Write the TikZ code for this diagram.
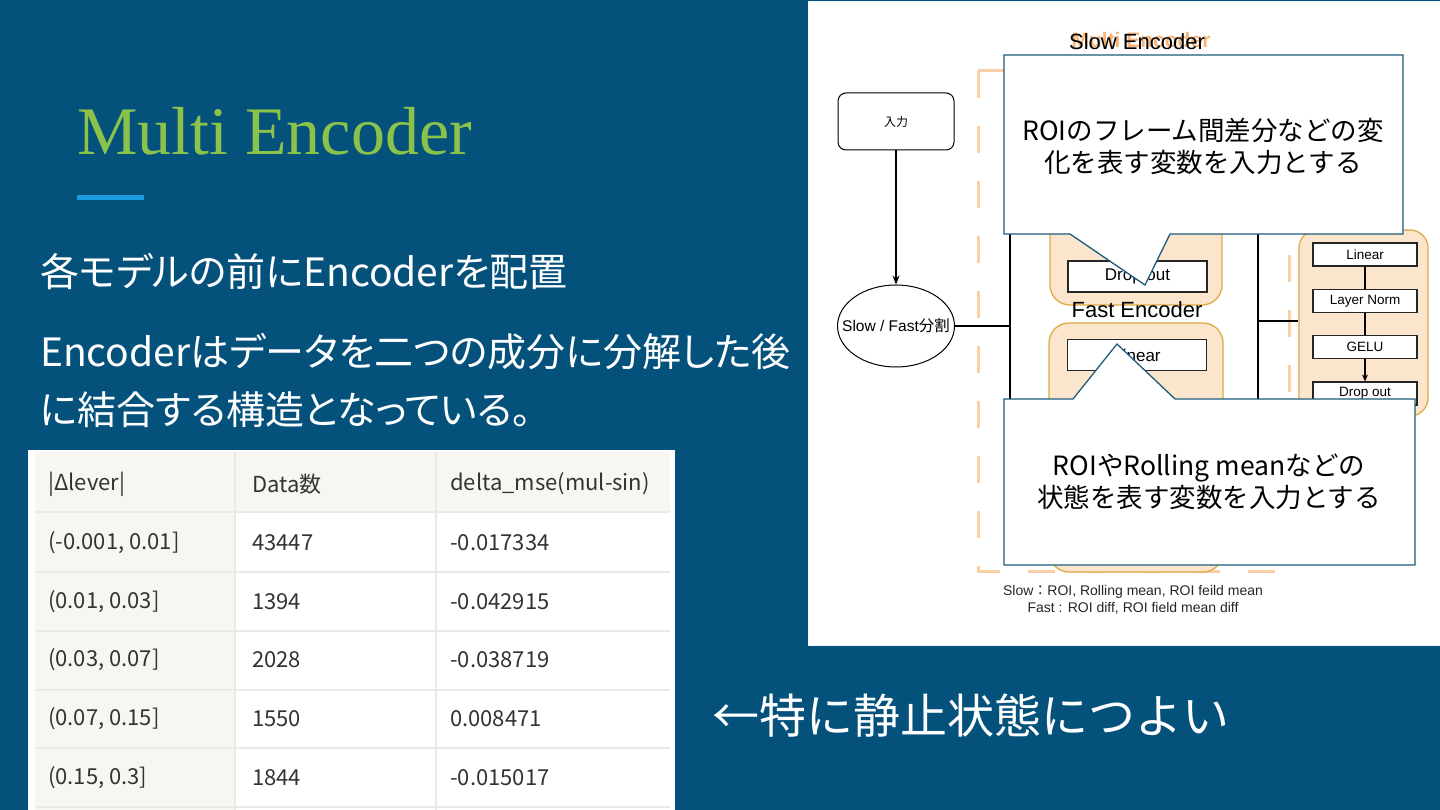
\documentclass[tikz,border=0pt]{standalone}
\usepackage{fontspec}
\setmainfont{Liberation Sans}
\newfontfamily\cjk{Noto Sans CJK JP}
\newfontfamily\cjkprop[RawFeature=+palt]{Noto Sans CJK JP}
\newfontfamily\slabfont{Liberation Serif}
\usetikzlibrary{positioning, arrows.meta, shapes.geometric}

\definecolor{slideblue}{HTML}{04527C}
\definecolor{titlegreen}{HTML}{8BC34A}
\definecolor{accentblue}{HTML}{1A9BE0}
\definecolor{encfill}{HTML}{FCE5CD}
\definecolor{encline}{HTML}{DDAA44}
\definecolor{groupline}{HTML}{F9CFA6}
\definecolor{grouptext}{HTML}{F7B57A}
\definecolor{calloutblue}{HTML}{1D5B7E}
\definecolor{tablehead}{HTML}{F7F6F3}
\definecolor{tablerule}{HTML}{E9E9E7}
\definecolor{tabletext}{HTML}{333333}

\newcommand{\fsz}[2]{\fontsize{#1}{#2}\selectfont}

\begin{document}
\begin{tikzpicture}[x=1pt, y=-1pt,
    layer/.style={draw=black!85, fill=white, line width=1.3pt, minimum width=139pt, minimum height=31pt, inner sep=0pt, font=\fsz{17}{20}},
    mlplayer/.style={draw=black!85, fill=white, line width=1.1pt, minimum width=104pt, minimum height=23pt, inner sep=0pt, font=\fsz{13.5}{16}},
    encbox/.style={draw=encline, fill=encfill, line width=1.3pt, rounded corners=20pt, inner sep=0pt},
    callout/.style={draw=calloutblue, fill=white, line width=1.3pt},
    calltext/.style={font=\cjk\fsz{26.5}{32}, align=center, inner sep=0pt},
    bodytext/.style={font=\cjkprop\fsz{39}{47}, text=white, anchor=west, inner sep=0pt},
    cell/.style={font=\cjk\fsz{22}{26}, text=tabletext, anchor=west, inner sep=0pt}]

    \useasboundingbox (0,0) rectangle (1440,810);
    \fill[slideblue] (0,0) rectangle (1440,810);

    % title and text
    \node[font=\slabfont\fsz{68}{80}, text=titlegreen, anchor=base west, inner sep=0pt] (title) at (77,155) {Multi Encoder};
    \draw[accentblue, line width=5pt] (77,198) -- (144,198);
    \node[bodytext] (line1) at (40,272) {各モデルの前にEncoderを配置};
    \node[bodytext] (line2) at (40,352) {Encoderはデータを二つの成分に分解した後};
    \node[bodytext] (line3) at (40,410) {に結合する構造となっている。};
    \node[font=\cjk\fsz{47}{56}, text=white, anchor=west, inner sep=0pt] (remark) at (712,716) {←特に静止状態につよい};

    % table
    \fill[white] (28,450) rectangle (675,810);
    \fill[tablehead] (35,452) rectangle (670,512);
    \fill[tablehead] (35,512) rectangle (235,810);
    \foreach \y in {512,572,631,690,748,807}
        \draw[tablerule, line width=1.5pt] (35,\y) -- (670,\y);
    \foreach \x in {235,436}
        \draw[tablerule, line width=1.5pt] (\x,452) -- (\x,810);
    \foreach \r/\y/\a/\b/\c in {
        0/484/{|Δlever|}/{Data数}/{delta\_mse(mul-sin)},
        1/543/{(-0.001, 0.01]}/{43447}/{-0.017334},
        2/602/{(0.01, 0.03]}/{1394}/{-0.042915},
        3/660/{(0.03, 0.07]}/{2028}/{-0.038719},
        4/719/{(0.07, 0.15]}/{1550}/{0.008471},
        5/778/{(0.15, 0.3]}/{1844}/{-0.015017}}{
        \node[cell] (row\r a) at (48,\y) {\a};
        \node[cell] (row\r b) at (252,\y) {\b};
        \node[cell] (row\r c) at (450,\y) {\c};
    }

    % diagram
    \filldraw[fill=white, draw=cyan!8, line width=1pt] (808,2) rectangle (1440,645);
    \draw[groupline, line width=3pt, dash pattern=on 27pt off 28pt] (978,71) rectangle (1289,571);
    \node[font=\bfseries\fsz{21}{24}, text=grouptext] (grouplabel) at (1141,40) {Multi Encoder};
    \node[font=\fsz{22}{25}] (slowlabel) at (1137,42) {Slow Encoder};

    \node[draw, rounded corners=8pt, minimum width=116pt, minimum height=57pt, line width=1pt, font=\cjk\fsz{12}{14}] (input) at (896,121.5) {入力};
    \node[draw, ellipse, minimum width=117pt, minimum height=82pt, line width=1pt, inner sep=0pt] (split) at (896,326) {};
    \node[font=\fsz{15.5}{18}, inner sep=0pt] (splittext) at (split) {Slow / Fast{\cjk 分割}};
    \draw[-{Stealth[length=9pt, width=7pt]}, line width=1.2pt] (input) -- (split);

    \node[encbox, minimum width=172pt, minimum height=243pt] (slowenc) at (1136,183.5) {};
    \node[encbox, minimum width=174pt, minimum height=249pt] (fastenc) at (1136,447.5) {};
    \node[layer] (slowdrop) at (1137.5,276.5) {Drop out};
    \node[layer] (fastlin) at (1137,355) {Linear};
    \node[font=\fsz{22}{25}] (fastlabel) at (1137,310) {Fast Encoder};

    \coordinate (busL) at (1010,326);
    \coordinate (busLtop) at (1010,150);
    \coordinate (busLbot) at (1010,470);
    \coordinate (busR) at (1258,321);
    \coordinate (busRtop) at (1258,150);
    \coordinate (busRbot) at (1258,470);
    \draw[line width=1.8pt] (busLtop) -- (busLbot);
    \draw[line width=1.8pt] (busRtop) -- (busRbot);
    \draw[line width=1.8pt] (split) -- (busL);
    \draw[line width=1.8pt] (busLtop) -- (busLtop -| slowenc.west);
    \draw[line width=1.8pt] (busLbot) -- (busLbot -| fastenc.west);
    \draw[line width=1.8pt] (busRtop -| slowenc.east) -- (busRtop);
    \draw[line width=1.8pt] (busRbot -| fastenc.east) -- (busRbot);

    \node[encbox, rounded corners=18pt, minimum width=129pt, minimum height=186pt] (mlp) at (1363.5,323) {};
    \node[mlplayer] (mlplin) at (1365,254.5) {Linear};
    \node[mlplayer] (mlpnorm) at (1365,301) {Layer Norm};
    \node[mlplayer] (mlpgelu) at (1365,347) {GELU};
    \node[mlplayer] (mlpdrop) at (1365,393.5) {Drop out};
    \draw[line width=1.1pt] (mlplin) -- (mlpnorm);
    \draw[line width=1.1pt] (mlpnorm) -- (mlpgelu);
    \draw[-{Stealth[length=7pt, width=6pt]}, line width=1.1pt] (mlpgelu) -- (mlpdrop);
    \draw[line width=1.8pt] (busR) -- (busR -| mlp.west);

    % callouts
    \draw[callout] (1004,55) -- (1403,55) -- (1403,234) -- (1170,234) -- (1145,285) -- (1070,234) -- (1004,234) -- cycle;
    \node[calltext] (slownote) at (1203,146) {ROIのフレーム間差分などの変\\化を表す変数を入力とする};
    \draw[callout] (1004,399) -- (1073,399) -- (1117,344) -- (1175,399) -- (1415,399) -- (1415,565) -- (1004,565) -- cycle;
    \node[calltext] (fastnote) at (1209,482) {ROIやRolling meanなどの\\状態を表す変数を入力とする};

    \node[font=\fsz{14}{17}, align=center, text=black!85] (legend) at (1133,600) {Slow{\cjk ：}ROI, Rolling mean, ROI feild mean\\Fast : ROI diff, ROI field mean diff};
\end{tikzpicture}
\end{document}
